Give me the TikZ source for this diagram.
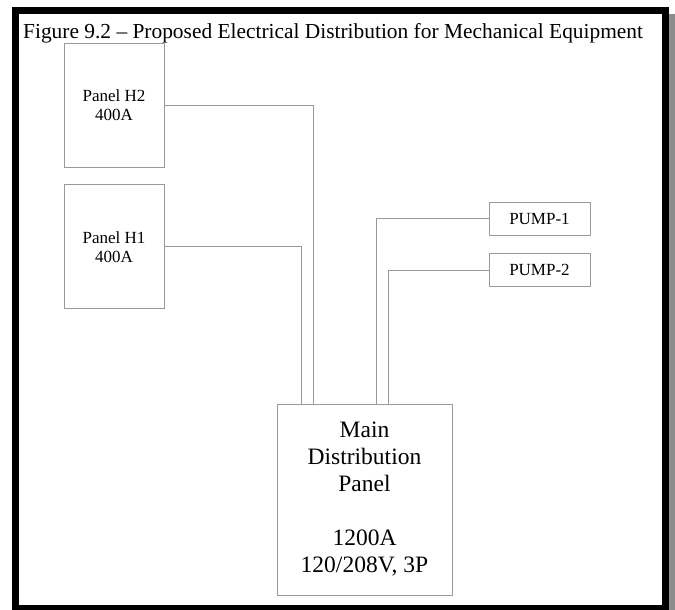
\documentclass[tikz,border=0pt]{standalone}
\usepackage{fontspec}
\setmainfont{Liberation Serif}
\usetikzlibrary{positioning}

\begin{document}
\begin{tikzpicture}[
        x=1pt, y=-1pt,
        node distance=17pt,
        panel/.style={draw=black!40, line width=0.8pt, minimum width=100pt, minimum height=124pt, inner sep=0pt, align=center, font=\fontsize{17}{19}\selectfont},
        pump/.style={draw=black!40, line width=0.8pt, minimum width=101pt, minimum height=33pt, inner sep=0pt, font=\fontsize{17}{19}\selectfont},
        mdp/.style={draw=black!40, line width=0.8pt, minimum width=175pt, minimum height=191pt, inner sep=0pt, align=center, font=\fontsize{23.5}{27}\selectfont},
        wire/.style={draw=black!40, line width=0.8pt}
    ]
    \useasboundingbox (0,0) rectangle (675,610);

    % Frame and shadow
    \fill[black!45] (669,14) rectangle (675,610);
    \draw[line width=7pt] (15.5,10.5) rectangle (665.5,608.5);

    % Title
    \node[anchor=base west, inner sep=0pt, font=\fontsize{21.4}{24}\selectfont] (title) at (23,39) {Figure 9.2 -- Proposed Electrical Distribution for Mechanical Equipment};

    % Panels
    \node[panel] (h2) at (114,105) {Panel H2\\400A};
    \node[panel, below=of h2] (h1) {Panel H1\\400A};

    % Pumps
    \node[pump] (pump1) at (539.5,218.5) {PUMP-1};
    \node[pump, below=18pt of pump1] (pump2) {PUMP-2};

    % Main distribution panel
    \node[mdp] (main) at (364.5,499.5) {Main\\Distribution\\Panel\\\mbox{}\\1200A\\120/208V, 3P};

    % Feeders
    \draw[wire] (h2.east) -| ([xshift=37pt]main.north west);
    \draw[wire] (h1.east) -| ([xshift=25pt]main.north west);
    \draw[wire] (pump1.west) -| ([xshift=100pt]main.north west);
    \draw[wire] (pump2.west) -| ([xshift=112pt]main.north west);

\end{tikzpicture}
\end{document}
